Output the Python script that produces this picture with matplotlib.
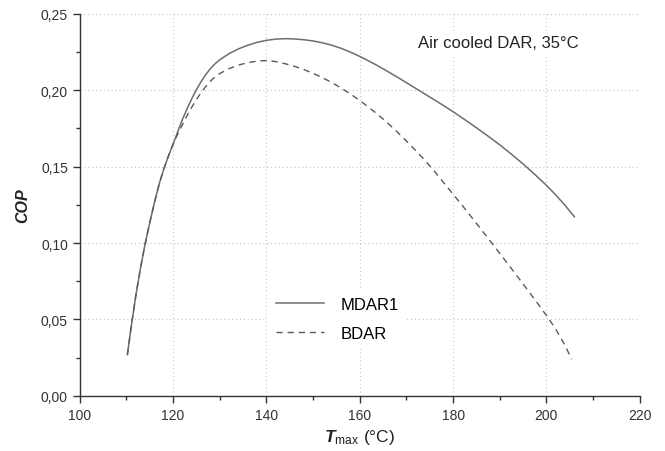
import matplotlib
matplotlib.use("Agg")
import matplotlib.pyplot as plt
from matplotlib.ticker import MultipleLocator, FuncFormatter

plt.rcParams['font.family'] = ['Liberation Sans', 'DejaVu Sans']
plt.rcParams['mathtext.fontset'] = 'custom'
plt.rcParams['mathtext.rm'] = 'Liberation Sans'
plt.rcParams['mathtext.it'] = 'Liberation Sans:italic'
plt.rcParams['mathtext.bf'] = 'Liberation Sans:bold'
plt.rcParams['mathtext.bfit'] = 'Liberation Sans:bold:italic'

# MDAR1 (solid)
t_mdar = [110.2, 111, 112, 113, 114, 115, 116, 117, 118, 119, 120, 121, 122, 123, 124,
          125, 126, 127, 128, 129, 130, 132, 134, 136, 138, 140, 142, 144, 146, 148,
          150, 152, 154, 156, 158, 160, 162, 164, 166, 168, 170, 172.5, 175, 177.5,
          180, 182.5, 185, 187.5, 190, 192.5, 195, 197.5, 200, 202, 204, 206]
cop_mdar = [0.027, 0.045, 0.0655, 0.0835, 0.0995, 0.1135, 0.1265, 0.1385, 0.1485,
            0.157, 0.1648, 0.173, 0.181, 0.188, 0.1945, 0.2005, 0.2057, 0.2103,
            0.2142, 0.2174, 0.2200, 0.2240, 0.2271, 0.2295, 0.2314, 0.2327, 0.2335,
            0.2338, 0.2336, 0.2331, 0.2323, 0.2311, 0.2295, 0.2275, 0.2250, 0.2222,
            0.2191, 0.2158, 0.2123, 0.2087, 0.2050, 0.2003, 0.1956, 0.1909, 0.1860,
            0.1808, 0.1755, 0.1700, 0.1643, 0.1582, 0.1518, 0.1450, 0.1378, 0.1315,
            0.1247, 0.1172]

# BDAR (dashed)
t_bdar = [110.2, 111, 112, 113, 114, 115, 116, 117, 118, 119, 120, 121, 122, 123, 124,
          125, 126, 127, 128, 129, 130, 132, 134, 136, 138, 140, 142, 144, 146, 148,
          150, 152, 154, 156, 158, 160, 162, 164, 166, 168, 170, 172, 174, 176, 178,
          180, 182, 184, 186, 188, 190, 192, 194, 196, 198, 200, 202, 204, 205.4]
cop_bdar = [0.027, 0.045, 0.0655, 0.0835, 0.0995, 0.1135, 0.1265, 0.1385, 0.1485,
            0.157, 0.1648, 0.1715, 0.1775, 0.1835, 0.1890, 0.1940, 0.1985, 0.2025,
            0.2060, 0.2088, 0.2110, 0.2142, 0.2165, 0.2181, 0.2191, 0.2195, 0.2188,
            0.2174, 0.2157, 0.2136, 0.2111, 0.2083, 0.2051, 0.2015, 0.1976, 0.1933,
            0.1887, 0.1838, 0.1785, 0.1728, 0.1668, 0.1605, 0.1540, 0.1470, 0.1395,
            0.1320, 0.1245, 0.1168, 0.1090, 0.1012, 0.0933, 0.0853, 0.0773, 0.0692,
            0.0610, 0.0526, 0.0437, 0.0330, 0.0240]

fig = plt.figure(figsize=(6.65, 4.52), dpi=100)
ax = fig.add_axes([0.120, 0.122, 0.842, 0.845])

ax.plot(t_mdar, cop_mdar, color='#6e6e6e', lw=1.1, label='MDAR1', zorder=3)
ax.plot(t_bdar, cop_bdar, color='#5a5a5a', lw=1.0, ls=(0, (4.5, 3.5)), label='BDAR', zorder=3)

ax.set_xlim(100, 220)
ax.set_ylim(0, 0.25)
ax.xaxis.set_major_locator(MultipleLocator(20))
ax.xaxis.set_minor_locator(MultipleLocator(10))
ax.yaxis.set_major_locator(MultipleLocator(0.05))
ax.yaxis.set_minor_locator(MultipleLocator(0.025))
ax.yaxis.set_major_formatter(FuncFormatter(lambda v, p: ('%.2f' % v).replace('.', ',')))

ax.grid(True, which='major', color='#c4c4c4', ls=(0, (1, 2.5)), lw=0.8)
ax.set_axisbelow(True)
for s in ['top', 'right']:
    ax.spines[s].set_visible(False)
for s in ['left', 'bottom']:
    ax.spines[s].set_linewidth(1.0)
    ax.spines[s].set_color('#333333')
ax.tick_params(which='major', direction='out', length=5, width=1, labelsize=10,
               colors='#333333', labelcolor='#333333')
ax.tick_params(which='minor', direction='out', length=3, width=1, colors='#333333')

ax.set_ylabel('COP', fontsize=11.5, fontweight='bold', fontstyle='italic', labelpad=8,
              color='#222222')
ax.set_xlabel(r'$\mathbfit{T}_{\mathrm{max}}$ (°C)', fontsize=12.5, labelpad=4,
              color='#222222')

leg = ax.legend(loc='upper left', bbox_to_anchor=(0.32, 0.302), frameon=True,
                fontsize=12, handlelength=2.9, handletextpad=1.0, labelspacing=0.8,
                borderpad=0.5)
leg.get_frame().set_edgecolor('none')
leg.get_frame().set_facecolor('white')
leg.get_frame().set_alpha(1)

ax.text(0.604, 0.926, 'Air cooled DAR, 35°C', transform=ax.transAxes, fontsize=12,
        color='#222222', va='center', ha='left',
        bbox=dict(facecolor='white', edgecolor='none', pad=3), zorder=2)

fig.savefig('out.png', dpi=100)
